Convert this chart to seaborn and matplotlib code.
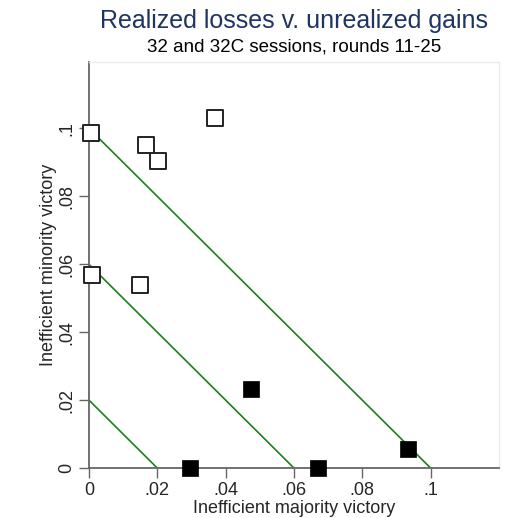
import seaborn as sns
import matplotlib.pyplot as plt
import pandas as pd
import numpy as np

# data
hollow_x = [0.0005, 0.001, 0.0149, 0.0167, 0.0202, 0.0368]
hollow_y = [0.0985, 0.0568, 0.0538, 0.0950, 0.0903, 0.1030]
filled_x = [0.0295, 0.0474, 0.0670, 0.0933]
filled_y = [0.0, 0.0232, 0.0, 0.0056]
iso_levels = [0.02, 0.06, 0.1]
ticks = [0, 0.02, 0.04, 0.06, 0.08, 0.1]
tick_labels = ['0', '.02', '.04', '.06', '.08', '.1']

sns.set_style('white')
plt.rcParams['font.family'] = ['Liberation Sans', 'DejaVu Sans']

fig = plt.figure(figsize=(5.17, 5.18), dpi=100)
ax = fig.add_axes([0.172, 0.0965, 0.793, 0.7835])

# iso-loss lines x + y = c
lines = pd.DataFrame(
    [(c, x, c - x) for c in iso_levels for x in (0, c)],
    columns=['level', 'x', 'y'])
sns.lineplot(data=lines, x='x', y='y', units='level', estimator=None,
             color='#1e7d1e', lw=1.2, ax=ax)

hollow = pd.DataFrame({'x': hollow_x, 'y': hollow_y})
filled = pd.DataFrame({'x': filled_x, 'y': filled_y})
sns.scatterplot(data=hollow, x='x', y='y', marker='s', s=125,
                facecolor='white', edgecolor='#222222', linewidth=1.4,
                ax=ax, clip_on=False, zorder=5)
sns.scatterplot(data=filled, x='x', y='y', marker='s', s=125,
                color='black', edgecolor='black', linewidth=0.5,
                ax=ax, clip_on=False, zorder=5)

ax.set_xlim(0, 0.12)
ax.set_ylim(0, 0.1195)
ax.set_xticks(ticks)
ax.set_xticklabels(tick_labels, fontsize=13)
ax.set_yticks(ticks)
ax.set_yticklabels(tick_labels, fontsize=13, rotation=90, va='center')
ax.tick_params(direction='out', length=7, width=1, color='#666666', pad=3,
               left=True, bottom=True)

for side in ['left', 'bottom']:
    ax.spines[side].set_color('#666666')
    ax.spines[side].set_linewidth(1.3)
for side in ['top', 'right']:
    ax.spines[side].set_color('#e8ecef')
    ax.spines[side].set_linewidth(1)

ax.set_xlabel('Inefficient majority victory', fontsize=13, labelpad=1)
ax.set_ylabel('Inefficient minority victory', fontsize=13, labelpad=1)

fig.text(0.569, 0.960, 'Realized losses v. unrealized gains', ha='center',
         va='center', fontsize=18, color='#1f3461')
fig.text(0.569, 0.909, '32 and 32C sessions, rounds 11-25', ha='center',
         va='center', fontsize=13.5, color='black')

fig.savefig('out.png', dpi=100, facecolor='white')
